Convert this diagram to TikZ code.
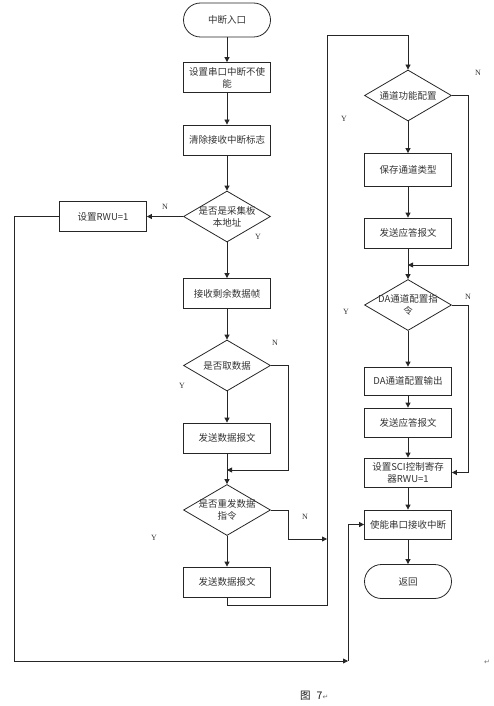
\documentclass[tikz,border=0pt]{standalone}
\usepackage{fontspec}
\setmainfont{Liberation Serif}
\newfontfamily\cjk{Noto Sans CJK SC}
\newfontfamily\djv{DejaVu Sans}
\usetikzlibrary{shapes.geometric,arrows.meta}
\begin{document}
\begin{tikzpicture}[x=1pt,y=-1pt,
  line/.style={draw=black!85, line width=0.8pt},
  arr/.style={line, -{Triangle[length=5pt,width=5pt]}},
  proc/.style={draw=black!85, line width=0.8pt, rectangle, minimum width=87pt,
    minimum height=30pt, inner sep=1pt, align=center,
    font=\cjk\fontsize{9.5}{12}\selectfont, text=black!80},
  term/.style={proc, rounded corners=17pt, minimum height=34pt},
  dec/.style={draw=black!85, line width=0.8pt, diamond, minimum width=87pt,
    minimum height=51pt, inner sep=0pt},
  dtext/.style={align=center, font=\cjk\fontsize{9.5}{12}\selectfont, text=black!80},
  yn/.style={font=\fontsize{8}{9}\selectfont, text=black!80},
  pmark/.style={font=\djv\fontsize{7}{8}\selectfont, text=black!55}]
\useasboundingbox (0,0) rectangle (494,706);
% left column
\node[term] (start) at (227,20) {中断入口};
\node[proc] (b1) at (227,77.5) {设置串口中断不使\\能};
\node[proc] (b2) at (227,140) {清除接收中断标志};
\node[dec, label={[dtext]center:是否是采集板\\本地址}] (d1) at (227,216.5) {};
\node[proc] (rwu) at (103,216.5) {设置RWU=1};
\node[proc] (b3) at (227,293.5) {接收剩余数据帧};
\node[dec, label={[dtext]center:是否取数据}] (d2) at (227,365.5) {};
\node[proc] (b4) at (227,438) {发送数据报文};
\coordinate (m1) at (227,470);
\node[dec, label={[dtext]center:是否重发数据\\指令}] (d3) at (227,510) {};
\node[proc] (b5) at (227,582) {发送数据报文};
% right column
\node[dec, label={[dtext]center:通道功能配置}] (d4) at (408,95.5) {};
\node[proc, minimum height=33pt] (b6) at (408,170) {保存通道类型};
\node[proc] (b7) at (408,233) {发送应答报文};
\coordinate (m2) at (408,265);
\node[dec, label={[dtext]center:DA通道配置指\\令}] (d5) at (408,305) {};
\node[proc, minimum height=28pt] (b8) at (408,381) {DA通道配置输出};
\node[proc, minimum height=29pt] (b9) at (408,422.5) {发送应答报文};
\node[proc, minimum height=29pt] (b10) at (408,472.5) {设置SCI控制寄存\\器RWU=1};
\node[proc, minimum height=29pt] (b11) at (408,524.5) {使能串口接收中断};
\node[term] (end) at (408,581.5) {返回};
% helper coordinates
\coordinate (t1) at (327,539);
\coordinate (c1) at (348,661);
% connectors left
\draw[arr] (start) -- (b1);
\draw[arr] (b1) -- (b2);
\draw[arr] (b2) -- (d1);
\draw[arr] (d1.west) -- (rwu.east);
\draw[arr] (d1.south) -- (b3);
\draw[arr] (b3) -- (d2.north);
\draw[arr] (d2.south) -- (b4);
\draw[arr] (d2.east) -- ++(17,0) |- (m1);
\draw[line] (b4.south) -- (m1);
\draw[arr] (m1) -- (d3.north);
\draw[arr] (d3.south) -- (b5);
\draw[arr] (d3.east) -- ++(17,0) |- (t1);
\draw[arr] (b5.south) -- ++(0,8) -| (327,35) -| (d4.north);
% connectors right
\draw[arr] (d4.south) -- (b6);
\draw[arr] (b6) -- (b7);
\draw[arr] (d4.east) -- ++(16,0) |- (m2);
\draw[line] (b7.south) -- (m2);
\draw[arr] (m2) -- (d5.north);
\draw[arr] (d5.south) -- (b8);
\draw[arr] (b8) -- (b9);
\draw[arr] (b9) -- (b10);
\draw[arr] (d5.east) -- ++(16,0) |- (b10.east);
\draw[arr] (b10) -- (b11);
\draw[arr] (b11) -- (end);
% big loop
\draw[arr] (rwu.west) -- (14,216.5) |- (c1);
\draw[arr] (c1) |- (b11.west);
% labels
\node[yn] (n1) at (165,207) {N};
\node[yn] (y1) at (258,237) {Y};
\node[yn] (n2) at (275,343) {N};
\node[yn] (y2) at (182,386) {Y};
\node[yn] (n3) at (305,517) {N};
\node[yn] (y3) at (154,538) {Y};
\node[yn] (n4) at (478,73) {N};
\node[yn] (y4) at (344,119) {Y};
\node[yn] (n5) at (468,297) {N};
\node[yn] (y5) at (346,312) {Y};
\node[pmark] (p1) at (487,662) {↵};
\node[anchor=west, font=\cjk\fontsize{10.5}{12}\selectfont, text=black!90, inner sep=0pt] (cap) at (300,696) {图\hspace{6pt}7\textcolor{black!55}{\djv\fontsize{7}{8}\selectfont ↵}};
\end{tikzpicture}
\end{document}
